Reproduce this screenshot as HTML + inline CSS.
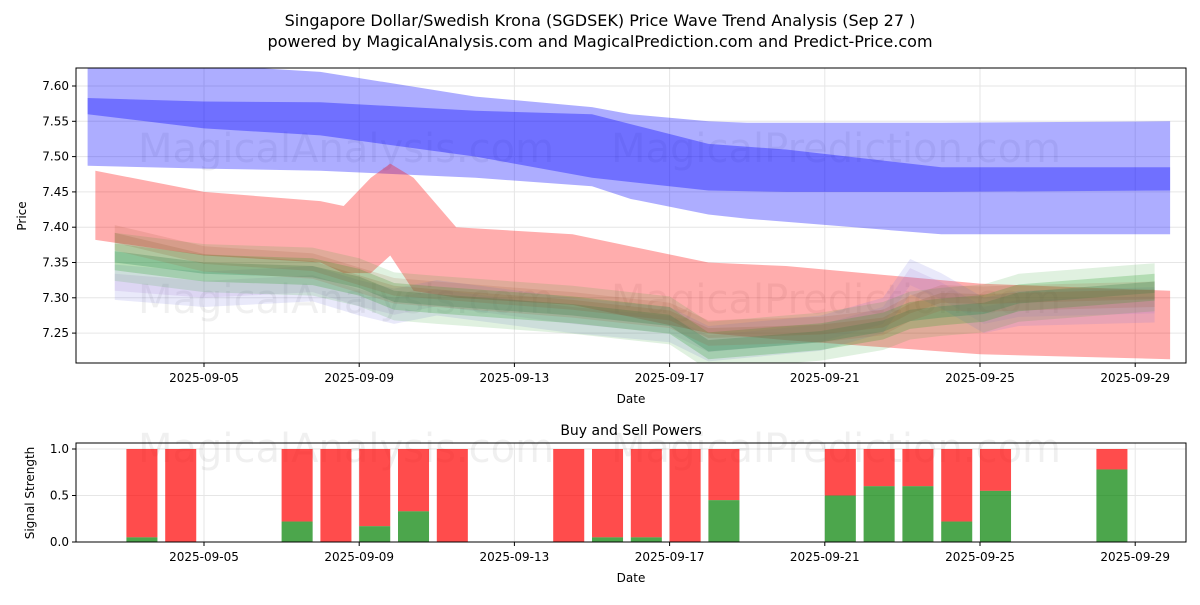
<!DOCTYPE html>
<html><head><meta charset="utf-8">
<style>
body{margin:0;background:#fff;font-family:"Liberation Sans","DejaVu Sans",sans-serif;}
svg text{font-family:"DejaVu Sans","Liberation Sans",sans-serif;}
</style></head>
<body>
<svg id="c" width="1200" height="600" viewBox="0 0 1200 600" xmlns="http://www.w3.org/2000/svg">
<text x="600" y="26" text-anchor="middle" font-size="16" fill="#000">Singapore Dollar/Swedish Krona (SGDSEK) Price Wave Trend Analysis (Sep 27 )</text>
<text x="600" y="47" text-anchor="middle" font-size="16" fill="#000">powered by MagicalAnalysis.com and MagicalPrediction.com and Predict-Price.com</text>
<g id="topPanel"></g>
<g id="botPanel"></g>
</svg>
<script>
// ---- data ----
const xTickLabels=["2025-09-05","2025-09-09","2025-09-13","2025-09-17","2025-09-21","2025-09-25","2025-09-29"];
const xTickDays=[5,9,13,17,21,25,29];
const yTicks=[7.25,7.30,7.35,7.40,7.45,7.50,7.55,7.60];
const blueOuterDays=[2,5,8,12,15,16,18,19,24,29.9];
const blueOuterHi=[7.64,7.63,7.62,7.585,7.57,7.56,7.55,7.548,7.548,7.55];
const blueOuterLo=[7.487,7.483,7.48,7.47,7.458,7.44,7.418,7.412,7.39,7.39];
const blueInnerDays=[2,5,8,12,15,18,20,24,29.9];
const blueInnerHi=[7.583,7.578,7.577,7.565,7.56,7.518,7.51,7.485,7.485];
const blueInnerLo=[7.56,7.54,7.53,7.50,7.47,7.452,7.45,7.45,7.452];
const redDays=[2.2,5,8,8.6,9.3,9.8,10.4,11.5,14.5,18,20,25,29.9];
const redHi=[7.48,7.45,7.437,7.43,7.47,7.49,7.47,7.40,7.39,7.35,7.345,7.32,7.31];
const redLo=[7.382,7.36,7.35,7.335,7.335,7.36,7.31,7.30,7.29,7.25,7.24,7.22,7.213];
const ensDays=[2.7,5,7.8,9,9.9,11,14.5,17,18,20.9,22.5,23.2,24,25.1,26,29.5];
const greenMid=[7.358,7.342,7.337,7.322,7.302,7.297,7.283,7.268,7.232,7.245,7.26,7.275,7.28,7.285,7.3,7.315];
const brownMid=[7.385,7.355,7.345,7.325,7.31,7.305,7.29,7.275,7.25,7.255,7.265,7.285,7.3,7.298,7.3,7.305];
const purpleMid=[7.322,7.312,7.32,7.3,7.288,7.30,7.275,7.262,7.235,7.25,7.275,7.33,7.31,7.275,7.285,7.29];
const barDays=[3.4,4.4,7.4,8.4,9.4,10.4,11.4,14.4,15.4,16.4,17.4,18.4,21.4,22.4,23.4,24.4,25.4,28.4];
const buyVals=[0.05,0,0.22,0,0.17,0.33,0,0,0.05,0.05,0,0.45,0.5,0.6,0.6,0.22,0.55,0.78];
const bTicks=[0,0.5,1.0];
// ---- scales ----
const L=76,R=1186,T1=68,B1=363,T2=443,B2=542;
const X=d=>204+(d-5)*38.8;
const Y=v=>86+(7.60-v)*706;
const YB=v=>542-v*93;
const NS="http://www.w3.org/2000/svg";
function mk(tag,attrs,parent,txt){const e=document.createElementNS(NS,tag);for(const k in attrs)e.setAttribute(k,attrs[k]);if(txt!==undefined)e.textContent=txt;parent.appendChild(e);return e;}
const topG=document.getElementById('topPanel'),botG=document.getElementById('botPanel');
const defs=mk('defs',{},document.getElementById('c'));
const cp=mk('clipPath',{id:'cp'},defs);mk('rect',{x:L,y:T1,width:R-L,height:B1-T1},cp);
xTickDays.forEach((d,i)=>{
 const g=mk('line',{x1:X(d),x2:X(d),y1:T1,y2:B1,stroke:'#e6e6e6','stroke-width':1},topG);
 
 
 mk('line',{x1:X(d),x2:X(d),y1:B1,y2:B1+4,stroke:'#000'},topG);
 const t=mk('text',{x:X(d),y:B1+19,'text-anchor':'middle','font-size':12},topG,xTickLabels[i]);
 
 
});
yTicks.forEach(v=>{
 mk('line',{x1:L,x2:R,y1:Y(v),y2:Y(v),stroke:'#e6e6e6'},topG);
 mk('line',{x1:L-4,x2:L,y1:Y(v),y2:Y(v),stroke:'#000'},topG);
 const t=mk('text',{x:L-7,y:Y(v)+4,'text-anchor':'end','font-size':12},topG,v.toFixed(2));
 
 
});
[[346,162],[836,162],[346,313],[836,313]].forEach((p,i)=>{
 const w=mk('text',{x:p[0],y:p[1],'text-anchor':'middle','font-size':40,fill:'#000','fill-opacity':0.06},topG,i%2?'MagicalPrediction.com':'MagicalAnalysis.com');
 
 
});
const plot=mk('g',{'clip-path':'url(#cp)'},topG);
function band(days,hi,lo,color,op,name){
 let pts=days.map((d,i)=>X(d)+','+Y(hi[i]));
 for(let i=days.length-1;i>=0;i--)pts.push(X(days[i])+','+Y(lo[i]));
 const p=mk('polygon',{points:pts.join(' '),fill:color,'fill-opacity':op},plot);
 
 
}
band(blueOuterDays,blueOuterHi,blueOuterLo,'#0000ff',0.32,'blue-outer-band');
band(blueInnerDays,blueInnerHi,blueInnerLo,'#0000ff',0.35,'blue-inner-band');
band(redDays,redHi,redLo,'#ff0000',0.32,'red-band');
function ens(mid,w,color,op,name){band(ensDays,mid.map(v=>v+w),mid.map(v=>v-w),color,op,name);}
ens(purpleMid,0.025,'#6a6ae0',0.15,'purple-wave-band');
ens(purpleMid,0.012,'#9a6ad0',0.15,'purple-wave-core');
ens(greenMid,0.034,'#2ca02c',0.15,'green-wave-outer');
ens(greenMid,0.019,'#2ca02c',0.25,'green-wave-band');
ens(greenMid,0.008,'#2e8b57',0.3,'green-wave-core');
ens(brownMid,0.018,'#a0522d',0.15,'brown-wave-band');
ens(brownMid,0.007,'#8b5a2b',0.18,'brown-wave-core');
mk('rect',{x:L,y:T1,width:R-L,height:B1-T1,fill:'none',stroke:'#000','stroke-width':1},topG);
const xl=mk('text',{x:631,y:403,'text-anchor':'middle','font-size':12},topG,'Date');


const yl=mk('text',{x:26,y:216,'text-anchor':'middle','font-size':12,transform:'rotate(-90 26 216)'},topG,'Price');


// bottom panel
const st=mk('text',{x:631,y:435,'text-anchor':'middle','font-size':14},botG,'Buy and Sell Powers');


xTickDays.forEach((d,i)=>{
 mk('line',{x1:X(d),x2:X(d),y1:T2,y2:B2,stroke:'#e6e6e6'},botG);
 mk('line',{x1:X(d),x2:X(d),y1:B2,y2:B2+4,stroke:'#000'},botG);
 const t=mk('text',{x:X(d),y:B2+19,'text-anchor':'middle','font-size':12},botG,xTickLabels[i]);
 
 
});
bTicks.forEach(v=>{
 mk('line',{x1:L,x2:R,y1:YB(v),y2:YB(v),stroke:'#e6e6e6'},botG);
 mk('line',{x1:L-4,x2:L,y1:YB(v),y2:YB(v),stroke:'#000'},botG);
 const t=mk('text',{x:L-7,y:YB(v)+4,'text-anchor':'end','font-size':12},botG,v.toFixed(1));
 
 
});
[[346,462],[836,462]].forEach((p,i)=>{
 const w=mk('text',{x:p[0],y:p[1],'text-anchor':'middle','font-size':40,fill:'#000','fill-opacity':0.06},botG,i?'MagicalPrediction.com':'MagicalAnalysis.com');
 
 
});
const bw=0.8*38.8;
barDays.forEach((d,i)=>{
 const b=buyVals[i];
 const r=mk('rect',{x:X(d)-bw/2,y:YB(1),width:bw,height:YB(b)-YB(1),fill:'#ff0000','fill-opacity':0.7},botG);
 
 
 const g=mk('rect',{x:X(d)-bw/2,y:YB(b),width:bw,height:YB(0)-YB(b),fill:'#008000','fill-opacity':0.7},botG);
 
 
});
mk('rect',{x:L,y:T2,width:R-L,height:B2-T2,fill:'none',stroke:'#000'},botG);
const bxl=mk('text',{x:631,y:582,'text-anchor':'middle','font-size':12},botG,'Date');


const byl=mk('text',{x:34,y:493,'text-anchor':'middle','font-size':12,transform:'rotate(-90 34 493)'},botG,'Signal Strength');


</script>
</body></html>
